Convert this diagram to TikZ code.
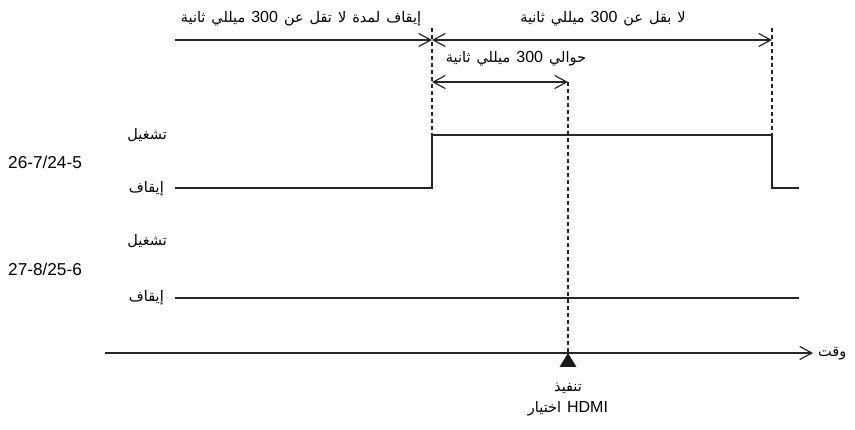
\documentclass[tikz,border=0pt]{standalone}
\usepackage{fontspec}
\setmainfont{Liberation Sans}
\newfontfamily\arabicfont[Script=Arabic,WordSpace=1.3]{DejaVu Sans}
\TeXXeTstate=1
\usetikzlibrary{arrows.meta}
\newcommand\numtxt[1]{\beginL{\rmfamily\fontsize{16}{18}\selectfont #1}\endL{}}
\begin{document}
\begin{tikzpicture}[x=1pt,y=-1pt,
  sig/.style={draw=black!85, line width=1.4pt},
  guide/.style={draw=black!85, dash pattern=on 4pt off 3pt, line width=1.3pt},
  dim/.style={draw=black!85, line width=1.2pt, >={Straight Barb[length=12pt,width=13pt]}},
  lbl/.style={font=\fontsize{17.2}{19}\selectfont, inner sep=0pt},
  arlbl/.style={font=\fontsize{14.5}{18}\selectfont\arabicfont, inner sep=0pt}]
\useasboundingbox (0,0) rectangle (855,430);
% coordinates
\coordinate (tl) at (175,40);
\coordinate (t1) at (432,40);
\coordinate (t2) at (772,40);
\coordinate (m1) at (432,82);
\coordinate (m2) at (568,82);
\coordinate (d1top) at (432,28);
\coordinate (d2top) at (772,28);
\coordinate (s1a) at (175,188);
\coordinate (s1b) at (432,188);
\coordinate (s1c) at (432,135);
\coordinate (s1d) at (772,135);
\coordinate (s1e) at (772,188);
\coordinate (s1f) at (799,188);
\coordinate (s2a) at (175,298);
\coordinate (s2b) at (799,298);
\coordinate (ax0) at (105,353);
\coordinate (ax1) at (813,353);
\coordinate (trig) at (568,353);
% dimension arrows
\draw[dim,->] (tl) -- (t1);
\draw[dim,<->] (t1) -- (t2);
\draw[dim,<->] (m1) -- (m2);
% guides
\draw[guide] (d1top) -- (s1c);
\draw[guide] (d2top) -- (s1d);
\draw[guide] (m2) -- (trig);
% signals
\draw[sig] (s1a) -- (s1b) -- (s1c) -- (s1d) -- (s1e) -- (s1f);
\draw[sig] (s2a) -- (s2b);
% time axis
\draw[dim,->] (ax0) -- (ax1);
\fill[black!90] (trig) -- ++(-8.5,14) -- ++(17,0) -- cycle;
% labels
\node[arlbl] (lab1) at (301,19) {\beginR إيقاف لمدة لا تقل عن \numtxt{300} ميللي ثانية\endR};
\node[arlbl] (lab2) at (603,19) {\beginR لا بقل عن \numtxt{300} ميللي ثانية\endR};
\node[arlbl] (lab3) at (516,59) {\beginR حوالي \numtxt{300} ميللي ثانية\endR};
\node[arlbl,anchor=east] (on1) at (167,135) {تشغيل};
\node[arlbl,anchor=east] (off1) at (164,189) {إيقاف};
\node[arlbl,anchor=east] (on2) at (167,241) {تشغيل};
\node[arlbl,anchor=east] (off2) at (164,298) {إيقاف};
\node[lbl,anchor=west] (code1) at (8,162) {26-7/24-5};
\node[lbl,anchor=west] (code2) at (8,269) {27-8/25-6};
\node[arlbl,anchor=west] (time) at (818,354) {وقت};
\node[arlbl] (ex1) at (568,388) {تنفيذ};
\node[arlbl] (ex2) at (568,409) {\beginR\numtxt{HDMI} اختيار\endR};
\end{tikzpicture}
\end{document}
